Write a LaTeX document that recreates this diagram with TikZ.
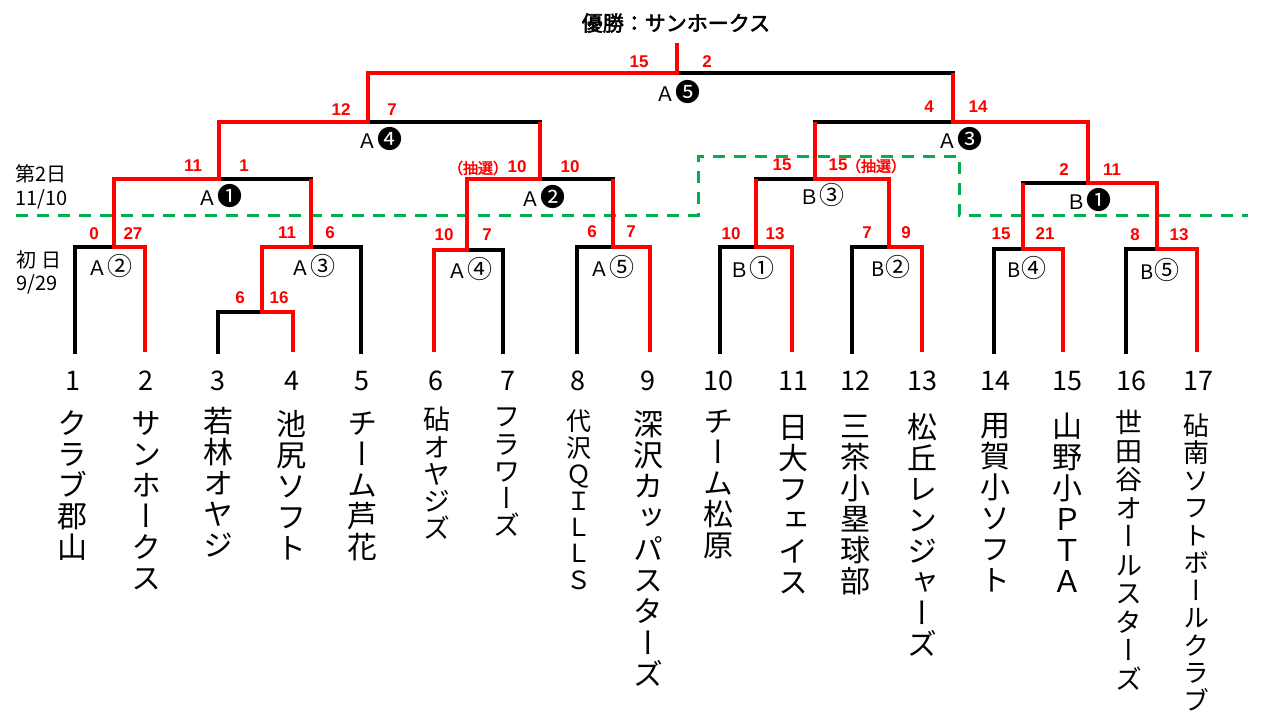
\documentclass[tikz,border=0pt]{standalone}
\usepackage{fontspec}
\newfontfamily\jp{Noto Sans CJK JP}[AutoFakeBold=2.5]
\newfontfamily\jpv{Noto Sans CJK JP}[RawFeature=+vert]
\newfontfamily\scf{Liberation Sans}
\definecolor{gr}{HTML}{00B050}
\definecolor{rd}{HTML}{FF0000}
\newcommand\mtchlab[2]{{\fontsize{20}{20}\selectfont #1}{\fontsize{25}{25}\selectfont #2}}
\begin{document}
\begin{tikzpicture}[x=1pt,y=-1pt,
  blk/.style={line width=3.5pt, black, line cap=rect},
  wpath/.style={line width=4.2pt, rd},
  grn/.style={line width=3pt, gr, dash pattern=on 12pt off 9pt},
  score/.style={text=rd, font=\scf\bfseries\fontsize{17}{17}\selectfont, inner sep=0pt},
  lottery/.style={text=rd, font=\jp\bfseries\fontsize{15}{15}\selectfont, inner sep=0pt},
  mlab/.style={font=\jp, inner sep=0pt},
  tnum/.style={font=\jp\fontsize{27}{27}\selectfont, anchor=base, inner sep=0pt},
  tname/.style={font=\jpv\fontsize{30}{31}\selectfont, align=center, anchor=north, inner sep=0pt},
  tnames/.style={font=\jpv\fontsize{27}{27.2}\selectfont, align=center, anchor=north, inner sep=0pt},
  side/.style={font=\jp\fontsize{20}{20}\selectfont, anchor=west, inner sep=0pt},
  ttl/.style={font=\jp\bfseries\fontsize{21}{21}\selectfont, inner sep=0pt}]
\fill[white] (0,0) rectangle (1280,720);
\useasboundingbox (0,0) rectangle (1280,720);

% team feet
\coordinate (f1) at (75,352);
\coordinate (f2) at (145,352);
\coordinate (f3) at (218,352);
\coordinate (f4) at (293,352);
\coordinate (f5) at (361,352);
\coordinate (f6) at (434,352);
\coordinate (f7) at (503,352);
\coordinate (f8) at (577,352);
\coordinate (f9) at (650,352);
\coordinate (f10) at (720,352);
\coordinate (f11) at (792,352);
\coordinate (f12) at (852,352);
\coordinate (f13) at (922,352);
\coordinate (f14) at (994,352);
\coordinate (f15) at (1063,352);
\coordinate (f16) at (1126,352);
\coordinate (f17) at (1197,352);
% match joins
\coordinate (j12) at (114,247);
\coordinate (j34) at (262,312);
\coordinate (j45) at (311,247);
\coordinate (jA1) at (219,179);
\coordinate (j67) at (467,250);
\coordinate (j89) at (613,247);
\coordinate (jA2) at (540,179);
\coordinate (jA4) at (368,122);
\coordinate (j1011) at (756,247);
\coordinate (j1213) at (889,247);
\coordinate (jB3) at (815,179);
\coordinate (j1415) at (1023,249);
\coordinate (j1617) at (1157,249);
\coordinate (jB1) at (1088,183);
\coordinate (jA3) at (953,122);
\coordinate (jA5) at (677,73);
\coordinate (top) at (677,43);
% day divider
\coordinate (g1) at (16,215);
\coordinate (g2) at (698,215);
\coordinate (g3) at (698,156);
\coordinate (g4) at (959,156);
\coordinate (g5) at (959,215);
\coordinate (g6) at (1248,215);

\draw[grn] (g1) -- (g2) -- (g3) -- (g4) -- (g5) -- (g6);

% losing (black) lines
\draw[blk] (f1) |- (j12);
\draw[blk] (f3) |- (j34);
\draw[blk] (f5) |- (j45);
\draw[blk] (jA1) -- (j45 |- jA1);
\draw[blk] (f7) |- (j67);
\draw[blk] (f8) |- (j89);
\draw[blk] (jA2) -- (j89 |- jA2);
\draw[blk] (jA4) -- (jA2 |- jA4);
\draw[blk] (f10) |- (j1011);
\draw[blk] (f12) |- (j1213);
\draw[blk] (j1011 |- jB3) -- (jB3);
\draw[blk] (jB3 |- jA3) -- (jA3);
\draw[blk] (f14) |- (j1415);
\draw[blk] (f16) |- (j1617);
\draw[blk] (j1415 |- jB1) -- (jB1);
\draw[blk] (jA5) -- (jA3 |- jA5);

% winning (red) lines
\draw[wpath] (f2) |- (j12) |- (jA1) |- (jA4) |- (jA5) -- (top);
\draw[wpath] (f4) |- (j34) |- (j45) -- (j45 |- jA1);
\draw[wpath] (f6) |- (j67) |- (jA2) -- (jA2 |- jA4);
\draw[wpath] (f9) |- (j89) -- (j89 |- jA2);
\draw[wpath] (f11) |- (j1011) -- (j1011 |- jB3);
\draw[wpath] (f13) |- (j1213) |- (jB3) -- (jB3 |- jA3);
\draw[wpath] (f15) |- (j1415) -- (j1415 |- jB1);
\draw[wpath] (f17) |- (j1617) |- (jB1) |- (jA3) -- (jA3 |- jA5);

% title
\node[ttl] (title) at (676,23) {優勝：サンホークス};

% side labels
\node[side] (d2) at (15,174) {第2日};
\node[side] (d2d) at (15,199) {11/10};
\node[side] (d1) at (16,260) {初\hspace{5pt}日};
\node[side] (d1d) at (16,284) {9/29};

% match labels
\node[mlab] (mA2s) at (110,266) {\mtchlab{Ａ}{②}};
\node[mlab] (mA3s) at (313,266) {\mtchlab{Ａ}{③}};
\node[mlab] (mA1b) at (220,196) {\mtchlab{Ａ}{❶}};
\node[mlab] (mA4b) at (380,139) {\mtchlab{Ａ}{❹}};
\node[mlab] (mA5b) at (678,92) {\mtchlab{Ａ}{❺}};
\node[mlab] (mA2b) at (543,197) {\mtchlab{Ａ}{❷}};
\node[mlab] (mA4s) at (470,269) {\mtchlab{Ａ}{④}};
\node[mlab] (mA5s) at (612,267) {\mtchlab{Ａ}{⑤}};
\node[mlab] (mB1s) at (752,268) {\mtchlab{Ｂ}{①}};
\node[mlab] (mB3s) at (822,195) {\mtchlab{Ｂ}{③}};
\node[mlab] (mB2s) at (891,267) {\mtchlab{B}{②}};
\node[mlab] (mA3b) at (960,139) {\mtchlab{Ａ}{❸}};
\node[mlab] (mB1b) at (1089,200) {\mtchlab{Ｂ}{❶}};
\node[mlab] (mB4s) at (1027,268) {\mtchlab{B}{④}};
\node[mlab] (mB5s) at (1160,270) {\mtchlab{B}{⑤}};

% scores
\node[score] (s01) at (94,234) {0};
\node[score] (s02) at (133,234) {27};
\node[score] (s03) at (287,233) {11};
\node[score] (s04) at (330,233) {6};
\node[score] (s05) at (240,298) {6};
\node[score] (s06) at (279,298) {16};
\node[score] (s07) at (193,166) {11};
\node[score] (s08) at (244,166) {1};
\node[score] (s09) at (341,110) {12};
\node[score] (s10) at (392,110) {7};
\node[score] (s11) at (639,62) {15};
\node[score] (s12) at (707,62) {2};
\node[lottery] (l1) at (478,168) {（抽選）};
\node[score] (s13) at (517,167) {10};
\node[score] (s14) at (570,167) {10};
\node[score] (s15) at (444,235) {10};
\node[score] (s16) at (487,235) {7};
\node[score] (s17) at (592,232) {6};
\node[score] (s18) at (631,232) {7};
\node[score] (s19) at (731,234) {10};
\node[score] (s20) at (775,234) {13};
\node[score] (s21) at (782,165) {15};
\node[score] (s22) at (838,165) {15};
\node[lottery] (l2) at (876,166) {（抽選）};
\node[score] (s23) at (867,233) {7};
\node[score] (s24) at (906,233) {9};
\node[score] (s25) at (929,107) {4};
\node[score] (s26) at (978,107) {14};
\node[score] (s27) at (1064,170) {2};
\node[score] (s28) at (1112,170) {11};
\node[score] (s29) at (1001,234) {15};
\node[score] (s30) at (1045,234) {21};
\node[score] (s31) at (1135,235) {8};
\node[score] (s32) at (1179,235) {13};

% team numbers
\node[tnum] (n1) at (73,390) {1};
\node[tnum] (n2) at (146,390) {2};
\node[tnum] (n3) at (218,390) {3};
\node[tnum] (n4) at (292,390) {4};
\node[tnum] (n5) at (362,390) {5};
\node[tnum] (n6) at (436,390) {6};
\node[tnum] (n7) at (508,390) {7};
\node[tnum] (n8) at (578,390) {8};
\node[tnum] (n9) at (648,390) {9};
\node[tnum] (n10) at (718,390) {10};
\node[tnum] (n11) at (793,390) {11};
\node[tnum] (n12) at (855,390) {12};
\node[tnum] (n13) at (922,390) {13};
\node[tnum] (n14) at (995,390) {14};
\node[tnum] (n15) at (1067,390) {15};
\node[tnum] (n16) at (1131,390) {16};
\node[tnum] (n17) at (1198,390) {17};

% team names
\node[tname] (t1) at (72,410) {ク\\ラ\\ブ\\郡\\山};
\node[tname] (t2) at (146,411) {サ\\ン\\ホ\\ー\\ク\\ス};
\node[tname] (t3) at (218,407) {若\\林\\オ\\ヤ\\ジ};
\node[tname] (t4) at (291,410) {池\\尻\\ソ\\フ\\ト};
\node[tname] (t5) at (362,412) {チ\\ー\\ム\\芦\\花};
\node[tnames] (t6) at (437,407) {砧\\オ\\ヤ\\ジ\\ズ};
\node[tnames] (t7) at (507,408) {フ\\ラ\\ワ\\ー\\ズ};
\node[tname, font=\jpv\fontsize{25}{26.4}\selectfont] (t8) at (579,410) {代\\沢\\Ｑ\\Ｉ\\Ｌ\\Ｌ\\Ｓ};
\node[tname, font=\jpv\fontsize{30}{31.3}\selectfont] (t9) at (648,410) {深\\沢\\カ\\ッ\\パ\\ス\\タ\\ー\\ズ};
\node[tname] (t10) at (718,410) {チ\\ー\\ム\\松\\原};
\node[tname] (t11) at (793,415) {日\\大\\フ\\ェ\\イ\\ス};
\node[tname] (t12) at (855,415) {三\\茶\\小\\塁\\球\\部};
\node[tname] (t13) at (922,413) {松\\丘\\レ\\ン\\ジ\\ャ\\ー\\ズ};
\node[tname] (t14) at (995,413) {用\\賀\\小\\ソ\\フ\\ト};
\node[tname] (t15) at (1067,413) {山\\野\\小\\Ｐ\\Ｔ\\Ａ};
\node[tname, font=\jpv\fontsize{27}{28.5}\selectfont] (t16) at (1129,410) {世\\田\\谷\\オ\\ー\\ル\\ス\\タ\\ー\\ズ};
\node[tname, font=\jpv\fontsize{26}{27.5}\selectfont] (t17) at (1196,413) {砧\\南\\ソ\\フ\\ト\\ボ\\ー\\ル\\ク\\ラ\\ブ};
\end{tikzpicture}
\end{document}
